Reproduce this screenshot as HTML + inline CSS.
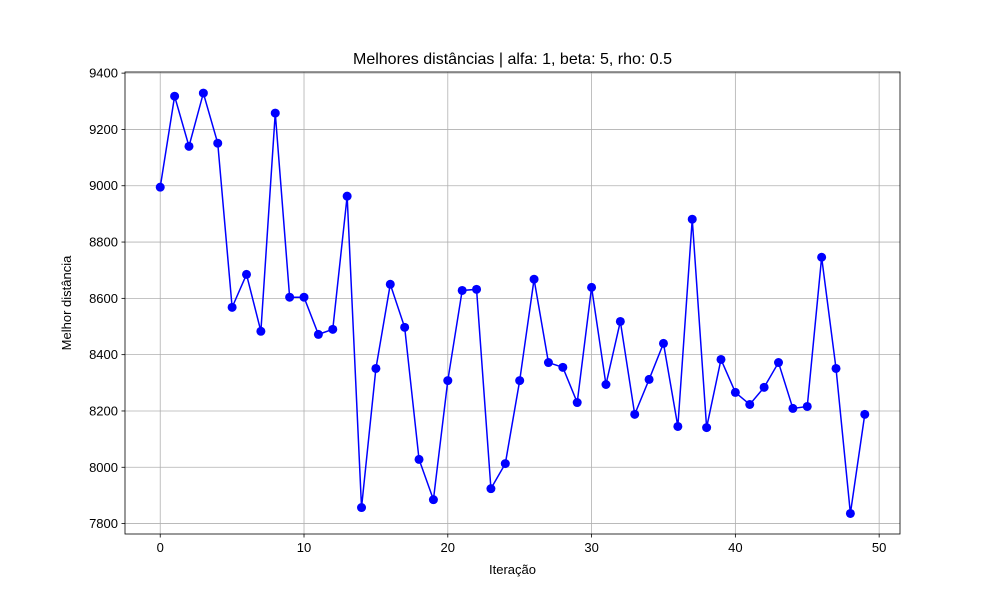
<!DOCTYPE html>
<html><head><meta charset="utf-8"><style>
html,body{margin:0;padding:0;background:#fff;}
svg{display:block;font-family:"Liberation Sans","DejaVu Sans",sans-serif;}
</style></head><body>
<svg id="chart" width="1000" height="600" viewBox="0 0 1000 600"></svg>
<script>
const iterations = [0,1,2,3,4,5,6,7,8,9,10,11,12,13,14,15,16,17,18,19,20,21,22,23,24,25,26,27,28,29,30,31,32,33,34,35,36,37,38,39,40,41,42,43,44,45,46,47,48,49];
const distances = [8995,9318,9140,9329,9151,8568,8685,8483,9258,8604,8604,8472,8490,8963,7857,8351,8650,8497,8028,7885,8308,8628,8632,7924,8013,8308,8668,8372,8355,8230,8639,8294,8518,8188,8312,8440,8145,8881,8141,8383,8266,8223,8284,8372,8209,8216,8746,8351,7836,8188];
const xTicks = [0,10,20,30,40,50];
const yTicks = [7800,8000,8200,8400,8600,8800,9000,9200,9400];

const L=125,R=900,T=72,B=534;
const xMin=-2.45,xMax=51.45,yMin=7763,yMax=9404;
const sx=v=>L+(v-xMin)/(xMax-xMin)*(R-L);
const sy=v=>B-(v-yMin)/(yMax-yMin)*(B-T);
const svg=document.getElementById('chart');
const NS='http://www.w3.org/2000/svg';
function mk(tag,attrs,parent){const e=document.createElementNS(NS,tag);for(const k in attrs)e.setAttribute(k,attrs[k]);(parent||svg).appendChild(e);return e;}

const grid=mk('g',{});


xTicks.forEach(t=>{
  const x=sx(t);
  const gl=mk('line',{x1:x,x2:x,y1:T,y2:B,stroke:'#b0b0b0','stroke-width':0.8},grid);
  
  
  mk('line',{x1:x,x2:x,y1:B,y2:B+3.5,stroke:'#000','stroke-width':0.8});
  const tl=mk('text',{x:x,y:B+18,'font-size':13,'text-anchor':'middle',fill:'#000'});
  tl.textContent=t;
  
  
});
yTicks.forEach(t=>{
  const y=sy(t);
  const gl=mk('line',{x1:L,x2:R,y1:y,y2:y,stroke:'#b0b0b0','stroke-width':0.8},grid);
  
  
  mk('line',{x1:L-3.5,x2:L,y1:y,y2:y,stroke:'#000','stroke-width':0.8});
  const tl=mk('text',{x:L-7,y:y+4.5,'font-size':13,'text-anchor':'end',fill:'#000'});
  tl.textContent=t;
  
  
});

const pts=iterations.map((it,i)=>sx(it)+','+sy(distances[i])).join(' ');
const line=mk('polyline',{points:pts,fill:'none',stroke:'#0000ff','stroke-width':1.5});


iterations.forEach((it,i)=>{
  const c=mk('circle',{cx:sx(it),cy:sy(distances[i]),r:4.5,fill:'#0000ff'});
  
  
});

const frame=mk('rect',{x:L,y:T,width:R-L,height:B-T,fill:'none',stroke:'#000','stroke-width':0.8});



const title=mk('text',{x:(L+R)/2,y:64,'font-size':16,'text-anchor':'middle',fill:'#000'});
title.textContent='Melhores distâncias | alfa: 1, beta: 5, rho: 0.5';



const xl=mk('text',{x:(L+R)/2,y:574,'font-size':13,'text-anchor':'middle',fill:'#000'});
xl.textContent='Iteração';



const yl=mk('text',{x:71,y:(T+B)/2,'font-size':13,'text-anchor':'middle',fill:'#000',transform:'rotate(-90 71 '+((T+B)/2)+')'});
yl.textContent='Melhor distância';


</script>
</body></html>
